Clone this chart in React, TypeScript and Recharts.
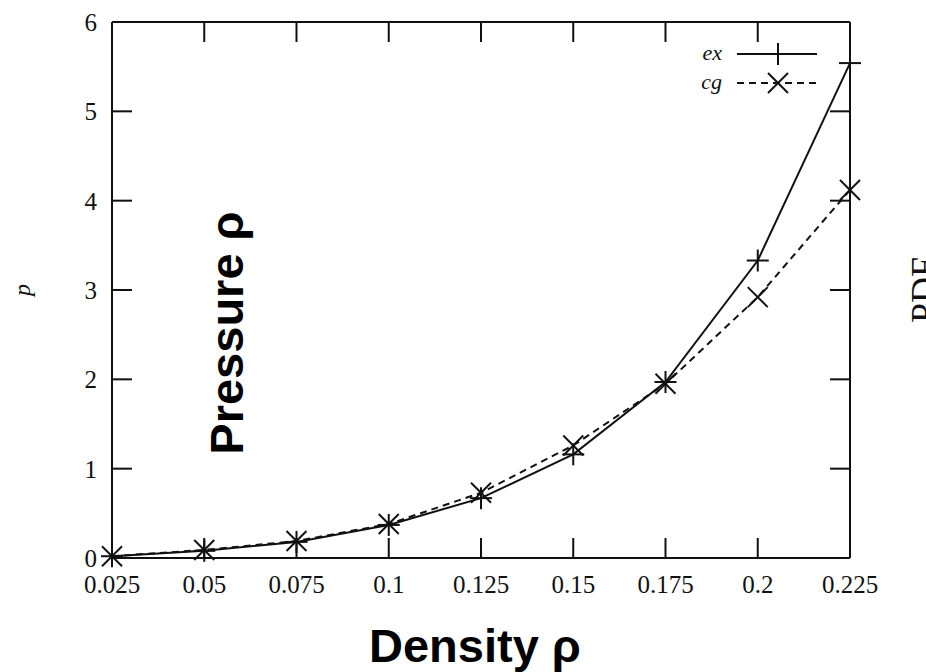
import React from 'react';
import { LineChart, Line, XAxis, YAxis, Legend } from 'recharts';

const density = [0.025, 0.05, 0.075, 0.1, 0.125, 0.15, 0.175, 0.2, 0.225];
const exPressure = [0.02, 0.08, 0.18, 0.37, 0.67, 1.16, 1.97, 3.33, 5.54];
const cgPressure = [0.02, 0.09, 0.19, 0.38, 0.73, 1.26, 1.95, 2.92, 4.12];

const xTicks = [0.025, 0.05, 0.075, 0.1, 0.125, 0.15, 0.175, 0.2, 0.225];
const yTicks = [0, 1, 2, 3, 4, 5, 6];

const rows = density.map((rho, i) => ({ rho, ex: exPressure[i], cg: cgPressure[i] }));

const INK = '#111';
const serif = '"Liberation Serif", "Times New Roman", serif';
const sans = '"Liberation Sans", Arial, sans-serif';

const Plus = ({ cx, cy, size = 11 }: any) => (
  <g stroke={INK} strokeWidth={2}>
    <line x1={cx - size} y1={cy} x2={cx + size} y2={cy} />
    <line x1={cx} y1={cy - size} x2={cx} y2={cy + size} />
  </g>
);

const Cross = ({ cx, cy, size = 10 }: any) => (
  <g stroke={INK} strokeWidth={2}>
    <line x1={cx - size} y1={cy - size} x2={cx + size} y2={cy + size} />
    <line x1={cx - size} y1={cy + size} x2={cx + size} y2={cy - size} />
  </g>
);

const renderLegend = () => (
  <svg width={150} height={60}>
    <g fontFamily={serif} fontStyle="italic" fontSize={22} fill={INK}>
      <text x={42} y={20} textAnchor="end">ex</text>
      <text x={42} y={49} textAnchor="end">cg</text>
    </g>
    <line x1={57} y1={14} x2={137} y2={14} stroke={INK} strokeWidth={2} />
    <Plus cx={98} cy={14} />
    <line x1={57} y1={43} x2={137} y2={43} stroke={INK} strokeWidth={2} strokeDasharray="7 5" />
    <Cross cx={98} cy={43} />
  </svg>
);

const tickStyle = { fontFamily: serif, fontSize: 25, fill: INK };
const blank = () => '';
const frame = { stroke: INK, strokeWidth: 2 };

export default function App() {
  return (
    <div style={{ position: 'absolute', left: 0, top: 0, width: 926, height: 672, background: '#fff' }}>
      <LineChart width={926} height={672} data={rows} margin={{ top: 21, right: 75, bottom: 0, left: 0 }}>
        <XAxis
          dataKey="rho"
          type="number"
          domain={[0.025, 0.225]}
          ticks={xTicks}
          height={114}
          tickSize={-20}
          tickMargin={37}
          tickFormatter={(v: number) => String(v)}
          tick={tickStyle}
          axisLine={frame}
          tickLine={frame}
        />
        <XAxis
          xAxisId="top"
          orientation="top"
          type="number"
          dataKey="rho"
          domain={[0.025, 0.225]}
          ticks={xTicks}
          height={1}
          tickSize={-20}
          tickFormatter={blank}
          axisLine={frame}
          tickLine={frame}
        />
        <YAxis
          type="number"
          domain={[0, 6]}
          ticks={yTicks}
          width={112}
          tickSize={-20}
          tickMargin={35}
          tick={tickStyle}
          axisLine={frame}
          tickLine={frame}
        />
        <YAxis
          yAxisId="right"
          orientation="right"
          type="number"
          domain={[0, 6]}
          ticks={yTicks}
          width={1}
          tickSize={-20}
          tickFormatter={blank}
          axisLine={frame}
          tickLine={frame}
        />
        <Line
          dataKey="ex"
          xAxisId="top"
          yAxisId="right"
          stroke="none"
          dot={false}
          activeDot={false}
          legendType="none"
          isAnimationActive={false}
        />
        <Line
          dataKey="ex"
          type="linear"
          stroke={INK}
          strokeWidth={2}
          dot={(p: any) => <Plus key={`ex-${p.index}`} cx={p.cx} cy={p.cy} />}
          activeDot={false}
          isAnimationActive={false}
        />
        <Line
          dataKey="cg"
          type="linear"
          stroke={INK}
          strokeWidth={2}
          strokeDasharray="7 5"
          dot={(p: any) => <Cross key={`cg-${p.index}`} cx={p.cx} cy={p.cy} />}
          activeDot={false}
          isAnimationActive={false}
        />
        <Legend
          layout="vertical"
          align="center"
          verticalAlign="middle"
          content={renderLegend}
          wrapperStyle={{ position: 'absolute', left: 680, top: 40, width: 150, height: 60 }}
        />
      </LineChart>
      <svg
        width={926}
        height={672}
        style={{ position: 'absolute', left: 0, top: 0, pointerEvents: 'none', overflow: 'hidden' }}
      >
        <text
          x={243}
          y={333}
          transform="rotate(-90 243 333)"
          textAnchor="middle"
          fontFamily={sans}
          fontWeight="bold"
          fontSize={47}
          fill="#000"
        >
          Pressure ρ
        </text>
        <text x={475} y={662} textAnchor="middle" fontFamily={sans} fontWeight="bold" fontSize={47} fill="#000">
          Density ρ
        </text>
        <text
          x={30}
          y={290}
          transform="rotate(-90 30 290)"
          textAnchor="middle"
          fontFamily={serif}
          fontStyle="italic"
          fontSize={24}
          fill={INK}
        >
          p
        </text>
        <text
          x={936}
          y={290}
          transform="rotate(-90 936 290)"
          textAnchor="middle"
          fontFamily={serif}
          fontSize={36}
          fill={INK}
        >
          PDF
        </text>
      </svg>
    </div>
  );
}
